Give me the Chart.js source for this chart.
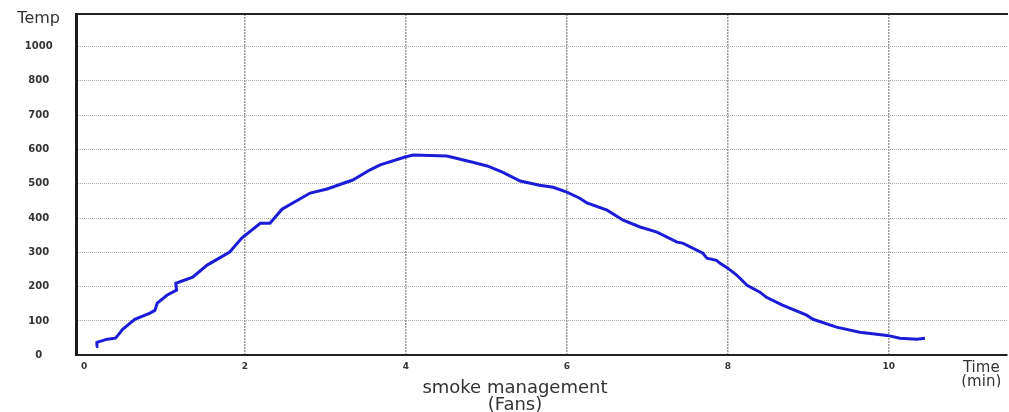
<!DOCTYPE html>
<html>
<head>
<meta charset="utf-8">
<script src="https://cdn.jsdelivr.net/npm/chart.js@4"></script>
<style>
  body { margin: 0; background: #fff; }
  #wrap { width: 1009px; height: 412px; }
</style>
</head>
<body>
<div id="wrap"><canvas id="tempChart"></canvas></div>
<script>
// Temperature curve
const times = [0.15, 0.16, 0.29, 0.39, 0.42, 0.48, 0.63, 0.82, 0.88, 0.91, 1.03, 1.15, 1.14, 1.35, 1.53, 1.81, 1.96, 2.19, 2.31, 2.46,
  2.81, 3.02, 3.34, 3.55, 3.68, 3.99, 4.09, 4.51, 4.83, 5.01, 5.20, 5.42, 5.66, 5.83, 6.00, 6.16, 6.25, 6.50, 6.70, 6.91,
  7.12, 7.37, 7.44, 7.69, 7.74, 7.86, 7.90, 8.00, 8.11, 8.24, 8.40, 8.48, 8.68, 8.98, 9.06, 9.35, 9.64, 9.98, 10.14, 10.35, 10.45];
const temps = [26, 38, 47, 50, 58, 76, 105, 123, 131, 152, 175, 190, 210, 228, 263, 301, 342, 385, 385, 426,
  473, 485, 511, 540, 555, 578, 584, 581, 563, 552, 534, 508, 496, 490, 476, 458, 444, 423, 394, 374,
  359, 330, 327, 298, 283, 277, 269, 254, 234, 204, 184, 169, 146, 117, 105, 82, 67, 58, 50, 47, 50];

const yTicks = [0, 100, 200, 300, 400, 500, 600, 700, 800, 900, 980];
const yLabels = ['0', '100', '200', '300', '400', '500', '600', '700', '800', '1000', 'Temp'];
const xTicks = [0, 2, 4, 6, 8, 10, 11.15];
const xLabels = ['0', '2', '4', '6', '8', '10', ['Time', '(min)']];

const FONT = 'DejaVu Sans';
const points = times.map((t, i) => ({ x: t, y: temps[i] }));

const ctx = document.getElementById('tempChart').getContext('2d');
new Chart(ctx, {
  type: 'line',
  data: {
    datasets: [{
      data: points,
      borderColor: '#1c1cd8',
      borderWidth: 3,
      pointRadius: 0,
      tension: 0,
      fill: false
    }]
  },
  options: {
    responsive: true,
    maintainAspectRatio: false,
    animation: false,
    layout: { padding: { top: 14, left: 0, right: 2, bottom: 0 } },
    plugins: {
      legend: { display: false },
      tooltip: { enabled: false },
      title: {
        display: true,
        position: 'bottom',
        // leading spaces push the centred title a little right, as in the picture
        text: ['    smoke management', '    (Fans)'],
        color: '#333',
        font: { family: FONT, size: 18, weight: 'normal', lineHeight: 0.95 },
        padding: { top: -7.5, bottom: -2 }
      }
    },
    scales: {
      x: {
        type: 'linear',
        min: -0.1,
        max: 11.47,
        afterBuildTicks: s => { s.ticks = xTicks.map(v => ({ value: v })); },
        afterFit: s => { s.height = 32; },
        ticks: {
          autoSkip: false,
          maxRotation: 0,
          padding: 6,
          color: '#333',
          callback: (v, i) => xLabels[i],
          font: c => c.index === xTicks.length - 1
            ? { family: FONT, size: 15, weight: 'normal', lineHeight: 0.92 }
            : { family: FONT, size: 9, weight: 'bold' }
        },
        grid: {
          drawTicks: false,
          color: c => (c.tick && c.tick.value > 0 && c.tick.value <= 10) ? '#9a9a9a' : 'transparent',
          lineWidth: 1.5
        },
        border: { color: '#222', width: 2, dash: [2, 1] }
      },
      x2: {
        type: 'linear',
        position: 'top',
        min: -0.1,
        max: 11.47,
        afterFit: s => { s.height = 0; },
        ticks: { display: false },
        grid: { display: false, drawTicks: false },
        border: { color: '#222', width: 2 }
      },
      y: {
        min: 0,
        max: 995,
        afterBuildTicks: s => { s.ticks = yTicks.map(v => ({ value: v })); },
        afterFit: s => { s.width = 76; },
        ticks: {
          autoSkip: false,
          crossAlign: 'center',
          padding: 0,
          color: '#333',
          callback: (v, i) => yLabels[i],
          font: c => c.index === yTicks.length - 1
            ? { family: FONT, size: 16, weight: 'normal' }
            : { family: FONT, size: 10, weight: 'bold' }
        },
        grid: {
          drawTicks: true,
          tickLength: 16,
          tickColor: 'transparent',
          color: c => (c.tick && c.tick.value > 0 && c.tick.value <= 900) ? '#ababab' : 'transparent',
          lineWidth: 1
        },
        border: { color: '#1a1a1a', width: 3, dash: [1, 1] }
      }
    }
  }
});
</script>
</body>
</html>
